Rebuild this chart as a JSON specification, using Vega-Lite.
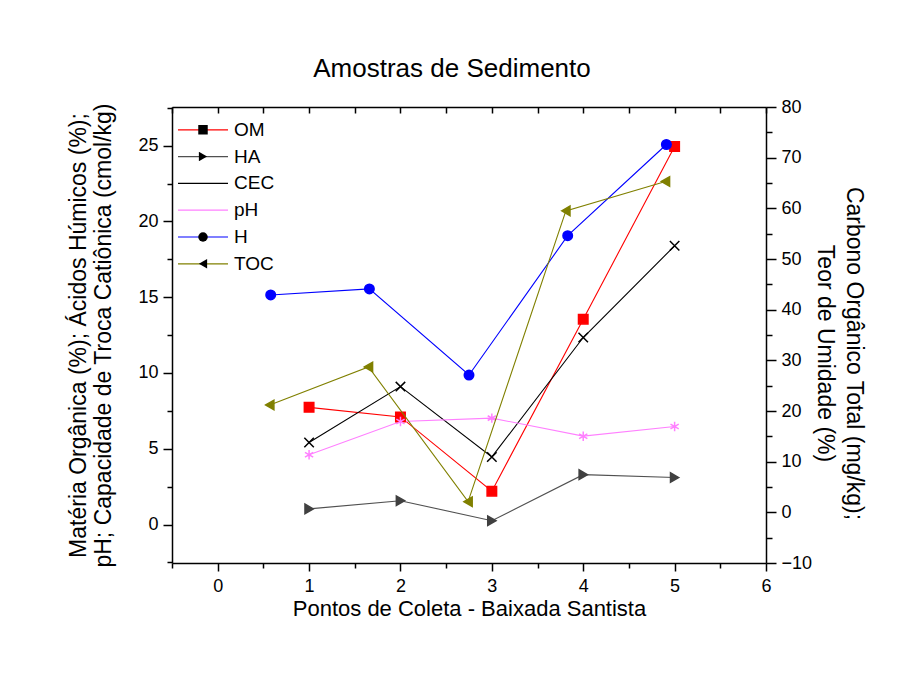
{
  "$schema": "https://vega.github.io/schema/vega-lite/v6.json",
  "width": 594,
  "height": 456,
  "autosize": {"type": "none"},
  "padding": {"left": 172, "top": 107, "right": 144, "bottom": 114},
  "background": "white",
  "config": {
    "font": "Liberation Sans",
    "view": {"stroke": null},
    "axis": {
      "grid": false,
      "domainColor": "black",
      "domainWidth": 1.5,
      "tickColor": "black",
      "tickWidth": 1.5,
      "labelColor": "black",
      "labelFontSize": 18,
      "labelFont": "Liberation Sans",
      "titleFont": "Liberation Sans",
      "titleFontSize": 22,
      "titleFontWeight": "normal",
      "titleColor": "black",
      "labelFlush": false,
      "labelOverlap": false
    }
  },
  "title": {
    "text": "Amostras de Sedimento",
    "fontSize": 26,
    "fontWeight": "normal",
    "font": "Liberation Sans",
    "color": "black",
    "offset": 16,
    "dx": -17
  },
  "data": {
    "values": [
      {"series": "OM", "x": 1, "v": 7.73},
      {"series": "OM", "x": 2, "v": 7.1},
      {"series": "OM", "x": 3, "v": 2.2},
      {"series": "OM", "x": 4, "v": 13.55},
      {"series": "OM", "x": 5, "v": 24.94},
      {"series": "HA", "x": 1, "v": 1.03},
      {"series": "HA", "x": 2, "v": 1.57},
      {"series": "HA", "x": 3, "v": 0.25},
      {"series": "HA", "x": 4, "v": 3.29},
      {"series": "HA", "x": 5, "v": 3.1},
      {"series": "CEC", "x": 1, "v": 5.41},
      {"series": "CEC", "x": 2, "v": 9.1},
      {"series": "CEC", "x": 3, "v": 4.46},
      {"series": "CEC", "x": 4, "v": 12.34},
      {"series": "CEC", "x": 5, "v": 18.39},
      {"series": "pH", "x": 1, "v": 4.6},
      {"series": "pH", "x": 2, "v": 6.8},
      {"series": "pH", "x": 3, "v": 7.02},
      {"series": "pH", "x": 4, "v": 5.83},
      {"series": "pH", "x": 5, "v": 6.47},
      {"series": "H", "x": 0.58, "v": 42.9},
      {"series": "H", "x": 1.66, "v": 44.1},
      {"series": "H", "x": 2.75, "v": 27.1},
      {"series": "H", "x": 3.83, "v": 54.6},
      {"series": "H", "x": 4.91, "v": 72.6},
      {"series": "TOC", "x": 0.57, "v": 21.2},
      {"series": "TOC", "x": 1.65, "v": 28.7},
      {"series": "TOC", "x": 2.74, "v": 2.1},
      {"series": "TOC", "x": 3.81, "v": 59.5},
      {"series": "TOC", "x": 4.9, "v": 65.3}
    ]
  },
  "layer": [
    {
      "transform": [{"filter": {"field": "series", "oneOf": ["OM", "HA", "CEC", "pH"]}}],
      "encoding": {
        "x": {
          "field": "x",
          "type": "quantitative",
          "scale": {"domain": [-0.5, 6], "nice": false, "zero": false},
          "axis": {
            "orient": "bottom",
            "title": "Pontos de Coleta - Baixada Santista",
            "values": [-0.5, 0, 0.5, 1, 1.5, 2, 2.5, 3, 3.5, 4, 4.5, 5, 5.5, 6],
            "labelExpr": "datum.value % 1 === 0 ? format(datum.value, 'd') : ''",
            "tickSize": {"condition": {"test": "datum.value % 1 !== 0", "value": 5}, "value": 8},
            "labelPadding": 6,
            "titlePadding": 3
          }
        },
        "y": {
          "field": "v",
          "type": "quantitative",
          "scale": {"domain": [-2.54, 27.55], "nice": false, "zero": false},
          "axis": {
            "orient": "left",
            "title": ["Matéria Orgânica (%); Ácidos Húmicos (%);", "pH; Capacidade de Troca Catiônica (cmol/kg)"],
            "titleFontSize": 23,
            "values": [-2.5, 0, 2.5, 5, 7.5, 10, 12.5, 15, 17.5, 20, 22.5, 25, 27.5],
            "labelExpr": "datum.value % 5 === 0 ? format(datum.value, 'd') : ''",
            "tickSize": {"condition": {"test": "datum.value % 5 !== 0", "value": 5}, "value": 9},
            "labelPadding": 5,
            "titlePadding": 22
          }
        }
      },
      "layer": [
        {
          "mark": {"type": "line", "strokeWidth": 1.1},
          "encoding": {
            "color": {
              "field": "series",
              "type": "nominal",
              "scale": {"domain": ["OM", "HA", "CEC", "pH", "H", "TOC"], "range": ["#ff0000", "#505050", "#000000", "#ff80ff", "#0000ff", "#808000"]},
              "legend": {
                "orient": "none",
                "legendX": 5,
                "legendY": 12.8,
                "title": null,
                "symbolType": "stroke",
                "symbolSize": 2500,
                "symbolStrokeWidth": 1.2,
                "labelFontSize": 19,
                "labelOffset": 5,
                "labelColor": "black",
                "clipHeight": 20,
                "rowPadding": 6.8,
                "padding": 0
              }
            }
          }
        },
        {
          "mark": {"type": "point", "filled": true, "size": 90, "strokeWidth": 1.5, "opacity": 1},
          "encoding": {
            "shape": {
              "field": "series", "type": "nominal", "sort": ["OM", "HA", "CEC", "pH", "H", "TOC"],
              "scale": {"range": ["square", "triangle-right", "M-1,-1L1,1M-1,1L1,-1", "M0,-1L0,1M-0.87,-0.5L0.87,0.5M-0.87,0.5L0.87,-0.5", "circle", "triangle-left"]},
              "legend": {
                "orient": "none",
                "legendX": 21.5,
                "legendY": 12.8,
                "title": null,
                "symbolSize": 90,
                "symbolStrokeWidth": 1.6,
                "labelFontSize": 19,
                "labelExpr": "''",
                "labelColor": "transparent",
                "clipHeight": 20,
                "rowPadding": 6.8,
                "padding": 0,
                "encode": {
                  "symbols": {
                    "enter": {
                      "fill": {"scale": "color", "field": "value"},
                      "stroke": {"scale": "color", "field": "value"}
                    },
                    "update": {
                      "fill": {"scale": "color", "field": "value"},
                      "stroke": {"scale": "color", "field": "value"},
                      "opacity": {"value": 1}
                    }
                  }
                }
              }
            },
            "fill": {
              "field": "series", "type": "nominal", "sort": ["OM", "HA", "CEC", "pH", "H", "TOC"],
              "scale": {"range": ["#ff0000", "#404040", "#000000", "#ff80ff", "#0000ff", "#808000"]},
              "legend": null
            },
            "stroke": {
              "field": "series", "type": "nominal", "sort": ["OM", "HA", "CEC", "pH", "H", "TOC"],
              "scale": {"range": ["#ff0000", "#404040", "#000000", "#ff80ff", "#0000ff", "#808000"]},
              "legend": null
            }
          }
        }
      ]
    },
    {
      "transform": [{"filter": {"field": "series", "oneOf": ["H", "TOC"]}}],
      "encoding": {
        "x": {
          "field": "x",
          "type": "quantitative",
          "axis": {
            "orient": "top",
            "title": null,
            "labels": false,
            "values": [-0.5, 0, 0.5, 1, 1.5, 2, 2.5, 3, 3.5, 4, 4.5, 5, 5.5, 6],
            "tickSize": -6
          }
        },
        "y": {
          "field": "v",
          "type": "quantitative",
          "scale": {"domain": [-10, 80], "nice": false, "zero": false},
          "axis": {
            "orient": "right",
            "title": ["Carbono Orgânico Total (mg/kg);", "Teor de Umidade (%)"],
            "titleFontSize": 23,
            "titleLineHeight": 29,
            "titleY": 246,
            "values": [-10, -5, 0, 5, 10, 15, 20, 25, 30, 35, 40, 45, 50, 55, 60, 65, 70, 75, 80],
            "labelExpr": "datum.value % 10 === 0 ? format(datum.value, 'd') : ''",
            "tickSize": {"condition": {"test": "datum.value % 10 !== 0", "value": 6}, "value": 10},
            "labelPadding": 5,
            "titlePadding": 1
          }
        }
      },
      "layer": [
        {
          "mark": {"type": "line", "strokeWidth": 1.1},
          "encoding": {
            "color": {"field": "series", "type": "nominal"}
          }
        },
        {
          "mark": {"type": "point", "filled": true, "size": 90, "strokeWidth": 1.5, "opacity": 1},
          "encoding": {
            "shape": {"field": "series", "type": "nominal", "sort": ["OM", "HA", "CEC", "pH", "H", "TOC"]},
            "fill": {"field": "series", "type": "nominal", "sort": ["OM", "HA", "CEC", "pH", "H", "TOC"], "legend": null},
            "stroke": {"field": "series", "type": "nominal", "sort": ["OM", "HA", "CEC", "pH", "H", "TOC"], "legend": null}
          }
        }
      ]
    }
  ],
  "resolve": {"scale": {"y": "independent"}, "axis": {"x": "independent", "y": "independent"}}
}
